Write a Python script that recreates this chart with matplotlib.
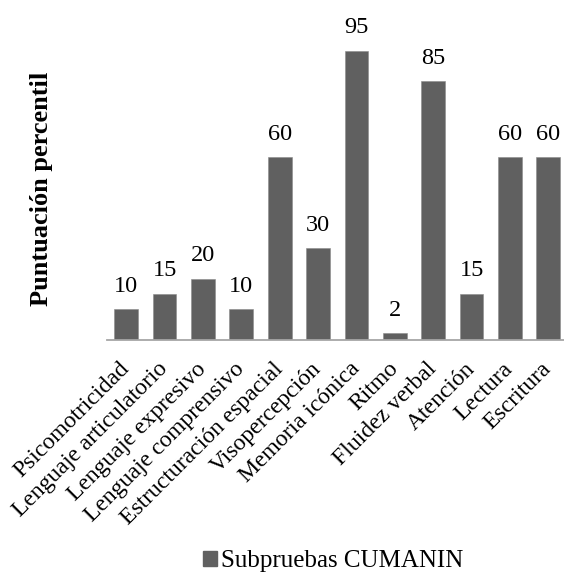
import matplotlib
matplotlib.use("Agg")
import matplotlib.pyplot as plt
from matplotlib.patches import Patch

categories = [
    "Psicomotricidad", "Lenguaje articulatorio", "Lenguaje expresivo",
    "Lenguaje comprensivo", "Estructuración espacial", "Visopercepción",
    "Memoria icónica", "Ritmo", "Fluidez verbal", "Atención",
    "Lectura", "Escritura",
]
percentiles = [10, 15, 20, 10, 60, 30, 95, 2, 85, 15, 60, 60]
series_name = "Subpruebas CUMANIN"
y_label = "Puntuación percentil"

plt.rcParams["font.family"] = ["Liberation Serif", "DejaVu Serif"]

W, H = 564, 576
fig = plt.figure(figsize=(W / 100, H / 100), dpi=100)
left_px, right_px = 107.0, 567.5
base_px, top_px = 339.5, 35.5
ax = fig.add_axes([left_px / W, 1 - base_px / H,
                   (right_px - left_px) / W, (base_px - top_px) / H])

bar_color = "#606060"
x = range(len(categories))
bars = ax.bar(x, percentiles, width=0.62, color=bar_color,
              edgecolor="#8a8a8a", linewidth=0.4, zorder=2)

for rect, v in zip(bars, percentiles):
    ax.annotate(str(v), (rect.get_x() + rect.get_width() / 2, rect.get_height()),
                xytext=(0, 9), textcoords="offset points",
                ha="center", va="bottom", fontsize=17.5, color="black")

ax.set_xlim(-0.5, len(categories) - 0.5)
ax.set_ylim(0, 100)
ax.set_yticks([])
ax.set_xticks(list(x))
ax.set_xticklabels(categories, rotation=45, ha="right", va="center",
                   rotation_mode="anchor", fontsize=17)
ax.tick_params(axis="x", length=0, pad=19)

for side in ("top", "right", "left"):
    ax.spines[side].set_visible(False)
ax.spines["bottom"].set_color("#a6a6a6")
ax.spines["bottom"].set_linewidth(1.3)
ax.spines["bottom"].set_zorder(3)

fig.text(42 / W, 1 - 189 / H, y_label, rotation=90, ha="center", va="center",
         fontsize=19, fontweight="bold")

handle = Patch(facecolor=bar_color, edgecolor=bar_color)
fig.legend([handle], [series_name], loc="center",
           bbox_to_anchor=(333 / W, 1 - 561 / H), frameon=False,
           fontsize=18, handlelength=0.55, handleheight=0.55,
           handletextpad=0.15, borderpad=0)

fig.savefig("out.png", dpi=100)
